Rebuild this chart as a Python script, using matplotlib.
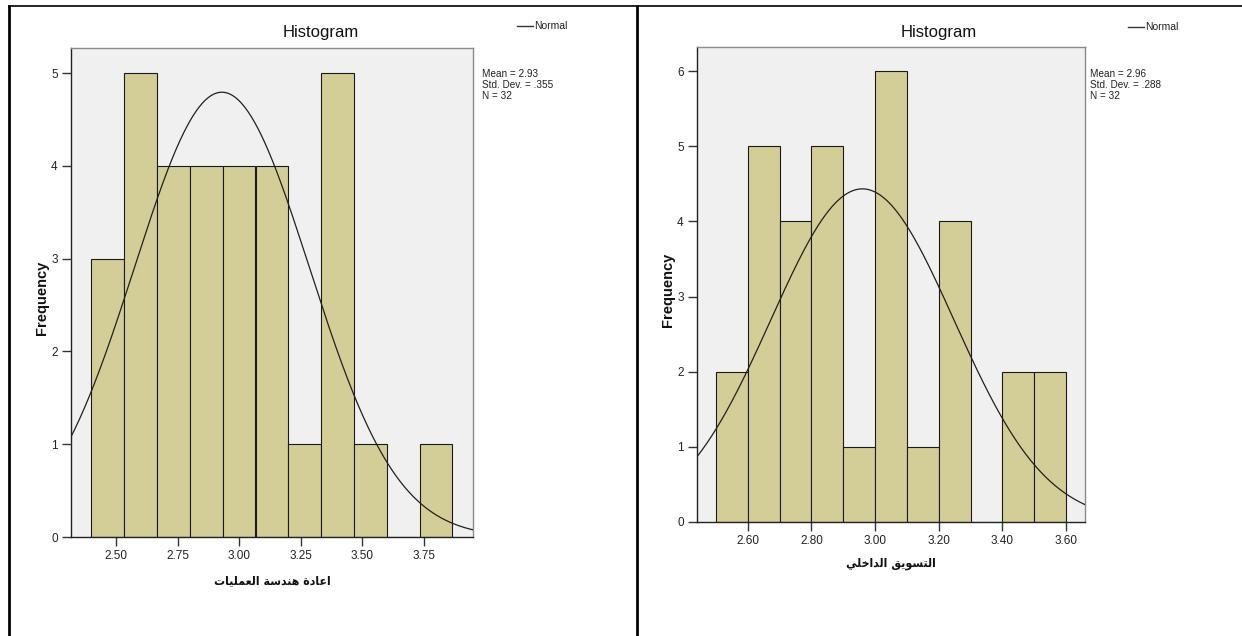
import numpy as np
import matplotlib
matplotlib.use("Agg")
import matplotlib.pyplot as plt
from matplotlib.lines import Line2D

# ---------------- data ----------------
left_edges_1 = [2.400, 2.533, 2.667, 2.800, 2.933, 3.067, 3.200, 3.333, 3.467, 3.600, 3.733]
bin_width_1 = 0.1333
counts_1 = [3, 5, 4, 4, 4, 4, 1, 5, 1, 0, 1]
mean_1, sd_1, n_1 = 2.93, 0.355, 32
xticks_1 = [2.50, 2.75, 3.00, 3.25, 3.50, 3.75]
xticklabels_1 = ["2.50", "2.75", "3.00", "3.25", "3.50", "3.75"]
yticks_1 = [0, 1, 2, 3, 4, 5]
xlabel_1 = "اعادة هندسة العمليات"
stats_1 = "Mean = 2.93\nStd. Dev. = .355\nN = 32"

left_edges_2 = [2.50, 2.60, 2.70, 2.80, 2.90, 3.00, 3.10, 3.20, 3.30, 3.40, 3.50]
bin_width_2 = 0.10
counts_2 = [2, 5, 4, 5, 1, 6, 1, 4, 0, 2, 2]
mean_2, sd_2, n_2 = 2.96, 0.288, 32
xticks_2 = [2.60, 2.80, 3.00, 3.20, 3.40, 3.60]
xticklabels_2 = ["2.60", "2.80", "3.00", "3.20", "3.40", "3.60"]
yticks_2 = [0, 1, 2, 3, 4, 5, 6]
xlabel_2 = "التسويق الداخلي"
stats_2 = "Mean = 2.96\nStd. Dev. = .288\nN = 32"

# ---------------- simple Arabic shaping ----------------
FORMS = {  # isolated, final, initial, medial
    'ا': ('\uFE8D', '\uFE8E', None, None),
    'د': ('\uFEA9', '\uFEAA', None, None),
    'ة': ('\uFE93', '\uFE94', None, None),
    'و': ('\uFEED', '\uFEEE', None, None),
    'ع': ('\uFEC9', '\uFECA', '\uFECB', '\uFECC'),
    'ه': ('\uFEE9', '\uFEEA', '\uFEEB', '\uFEEC'),
    'ن': ('\uFEE5', '\uFEE6', '\uFEE7', '\uFEE8'),
    'س': ('\uFEB1', '\uFEB2', '\uFEB3', '\uFEB4'),
    'ل': ('\uFEDD', '\uFEDE', '\uFEDF', '\uFEE0'),
    'م': ('\uFEE1', '\uFEE2', '\uFEE3', '\uFEE4'),
    'ي': ('\uFEF1', '\uFEF2', '\uFEF3', '\uFEF4'),
    'ت': ('\uFE95', '\uFE96', '\uFE97', '\uFE98'),
    'ق': ('\uFED5', '\uFED6', '\uFED7', '\uFED8'),
    'خ': ('\uFEA5', '\uFEA6', '\uFEA7', '\uFEA8'),
}


def shape_arabic(s):
    out = []
    for i, ch in enumerate(s):
        if ch not in FORMS:
            out.append(ch)
            continue
        prev = s[i - 1] if i > 0 else ''
        nxt = s[i + 1] if i + 1 < len(s) else ''
        jp = prev in FORMS and FORMS[prev][2] is not None
        jn = FORMS[ch][2] is not None and nxt in FORMS
        iso, fin, ini, med = FORMS[ch]
        if jp and jn:
            out.append(med)
        elif jp:
            out.append(fin)
        elif jn:
            out.append(ini)
        else:
            out.append(iso)
    return ''.join(out)[::-1]


# ---------------- style ----------------
plt.rcParams['font.family'] = ['Liberation Sans', 'DejaVu Sans']
W, H = 1242, 636
fig = plt.figure(figsize=(W / 100, H / 100), dpi=100)
fig.patch.set_facecolor('white')

BAR = '#D3CE97'
BG = '#F0F0F0'


def px_axes(x0, y0, x1, y1):
    return fig.add_axes([x0 / W, 1 - y1 / H, (x1 - x0) / W, (y1 - y0) / H])


def draw(ax, edges, bw, counts, mean, sd, n, xlim, ylim, xticks, xtl, yticks):
    ax.set_facecolor(BG)
    ax.bar(edges, counts, width=bw, align='edge', color=BAR,
           edgecolor='#1a1a1a', linewidth=0.8, zorder=2)
    xs = np.linspace(xlim[0], xlim[1], 400)
    ys = n * bw * np.exp(-0.5 * ((xs - mean) / sd) ** 2) / (sd * np.sqrt(2 * np.pi))
    ax.plot(xs, ys, color='#202020', linewidth=0.9, zorder=3)
    ax.set_xlim(*xlim)
    ax.set_ylim(*ylim)
    ax.set_xticks(xticks)
    ax.set_xticklabels(xtl)
    ax.set_yticks(yticks)
    ax.tick_params(axis='both', direction='out', length=6.5, width=1.0,
                   color='#333333', labelsize=8.5, labelcolor='#222222', pad=3)
    for side in ('left', 'bottom'):
        ax.spines[side].set_color('#222222')
        ax.spines[side].set_linewidth(1.0)
    for side in ('top', 'right'):
        ax.spines[side].set_color('#8a8a8a')
        ax.spines[side].set_linewidth(1.0)


ax1 = px_axes(71, 48, 473, 537)
draw(ax1, left_edges_1, bin_width_1, counts_1, mean_1, sd_1, n_1,
     (2.317, 3.95), (0, 5.27), xticks_1, xticklabels_1, yticks_1)
ax2 = px_axes(697, 47, 1085, 522)
draw(ax2, left_edges_2, bin_width_2, counts_2, mean_2, sd_2, n_2,
     (2.44, 3.66), (0, 6.32), xticks_2, xticklabels_2, yticks_2)


def ftext(x, y, s, **kw):
    fig.text(x / W, 1 - y / H, s, **kw)


# titles
ftext(321, 33, "Histogram", fontsize=12, ha='center', va='center', color='#111111')
ftext(939, 33, "Histogram", fontsize=12, ha='center', va='center', color='#111111')

# legends
for (lx, ly) in [(517, 26), (1128, 27)]:
    fig.add_artist(Line2D([lx / W, (lx + 16) / W], [1 - ly / H, 1 - ly / H],
                          color='#333333', linewidth=1.0))
    ftext(lx + 17, ly, "Normal", fontsize=7.5, ha='left',
          va='center', color='#222222')

# stats
ftext(482, 69, stats_1, fontsize=7.2, ha='left', va='top',
      color='#222222', linespacing=1.15)
ftext(1090, 69, stats_2, fontsize=7.2, ha='left', va='top',
      color='#222222', linespacing=1.15)

# y labels
ftext(42, 298, "Frequency", fontsize=10.5, fontweight='bold', rotation=90,
      ha='center', va='center', color='#111111')
ftext(668, 290, "Frequency", fontsize=10.5, fontweight='bold', rotation=90,
      ha='center', va='center', color='#111111')

# x labels (Arabic)
ftext(272, 581, shape_arabic(xlabel_1), fontsize=8.8, fontweight='bold',
      fontstretch='condensed', family=['DejaVu Sans'], ha='center', va='center',
      color='#111111')
ftext(891, 563, shape_arabic(xlabel_2), fontsize=8.8, fontweight='bold',
      fontstretch='condensed', family=['DejaVu Sans'], ha='center', va='center',
      color='#111111')

# table borders
def fline(x0, y0, x1, y1, lw=1.5):
    fig.add_artist(Line2D([x0 / W, x1 / W], [1 - y0 / H, 1 - y1 / H],
                          color='black', linewidth=lw, solid_capstyle='butt'))

fline(8, 5.5, 1242, 5.5, 1.2)
fline(8.5, 5, 8.5, 636, 2.0)
fline(636.5, 5, 636.5, 636, 2.0)

fig.savefig("out.png", dpi=100, facecolor='white')
